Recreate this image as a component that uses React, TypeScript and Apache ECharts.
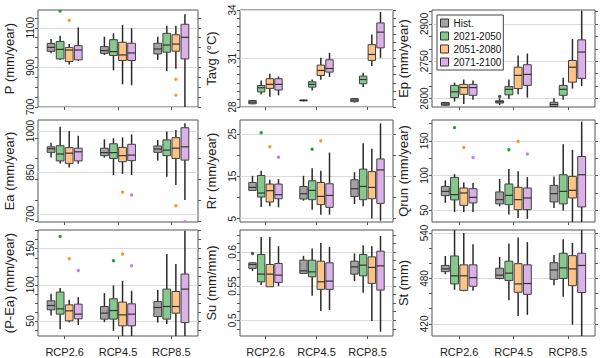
import { useEffect, useRef } from 'react';
import * as echarts from 'echarts';

const groups = ['RCP2.6', 'RCP4.5', 'RCP8.5'];
const periods = ['Hist.', '2021-2050', '2051-2080', '2071-2100'];

// box stats: [period][group] = [min, q1, median, q3, max]
const P_box = [
  [[971, 981, 1001, 1021, 1043], [963, 971, 985, 1005, 1055], [938, 968, 993, 1022, 1055]],
  [[938, 943, 991, 1031, 1060], [885, 960, 980, 1040, 1072], [882, 977, 1013, 1072, 1110]],
  [[915, 930, 988, 1001, 1018], [815, 935, 963, 1027, 1115], [893, 982, 1018, 1065, 1110]],
  [[933, 938, 988, 1010, 1102], [810, 935, 973, 1022, 1098], [690, 943, 1052, 1118, 1168]],
];
const P_out = [[1, 0, 1185], [2, 0, 1138], [2, 2, 840], [2, 2, 760]];
const P_ticks = [700, 900, 1100];

const Tavg_box = [
  [[28.17, 28.2, 28.3, 28.4, 28.43], [28.35, 28.38, 28.41, 28.43, 28.46], [28.28, 28.33, 28.43, 28.52, 28.56]],
  [[28.78, 28.93, 29.19, 29.33, 29.64], [29.02, 29.23, 29.4, 29.56, 29.7], [29.23, 29.44, 29.7, 29.91, 30.12]],
  [[28.64, 29.15, 29.4, 29.75, 30.06], [29.69, 29.95, 30.26, 30.59, 31.04], [30.53, 30.88, 31.25, 31.86, 32.48]],
  [[28.72, 29.05, 29.4, 29.75, 29.89], [29.85, 30.16, 30.38, 30.92, 31.35], [31.04, 31.66, 32.63, 33.2, 33.88]],
];
const Tavg_out: number[][] = [];
const Tavg_ticks = [28, 31, 34];

const Ep_box = [
  [[2570, 2573, 2578, 2584, 2587], [2574, 2582, 2587, 2591, 2601], [2566, 2568, 2576, 2585, 2601]],
  [[2588, 2604, 2627, 2653, 2664], [2598, 2615, 2637, 2648, 2677], [2595, 2613, 2637, 2653, 2684]],
  [[2578, 2617, 2644, 2657, 2677], [2617, 2640, 2693, 2726, 2773], [2640, 2666, 2726, 2753, 2839]],
  [[2595, 2613, 2644, 2657, 2673], [2604, 2653, 2697, 2736, 2781], [2650, 2681, 2787, 2836, 2953]],
];
const Ep_out = [[0, 1, 2608]];
const Ep_ticks = [2600, 2750, 2900];

const Ea_box = [
  [[904, 923, 936, 943, 958], [904, 911, 922, 938, 970], [893, 923, 935, 946, 968]],
  [[883, 892, 917, 947, 1016], [841, 901, 922, 954, 974], [835, 911, 931, 968, 998]],
  [[868, 883, 920, 940, 1000], [845, 889, 911, 941, 977], [805, 901, 938, 976, 1004]],
  [[882, 892, 925, 938, 983], [841, 893, 913, 952, 988], [751, 895, 943, 1012, 1028]],
];
const Ea_out = [[2, 1, 779], [3, 1, 769], [2, 2, 730], [3, 2, 672]];
const Ea_ticks = [700, 850, 1000];

const Rr_box = [
  [[11.6, 11.66, 12.37, 13.54, 15.12], [9.24, 9.63, 10.88, 12.6, 15.12], [8.46, 10.25, 12.06, 14.18, 15.98]],
  [[7.75, 10.1, 11.04, 15.2, 16.3], [7.1, 9.47, 11.66, 13.94, 16.9], [7.9, 9.47, 12.6, 16.7, 22.8]],
  [[7.9, 8.93, 11.6, 13.16, 14.18], [5.94, 8.3, 10.25, 13.54, 16.3], [5.0, 9.7, 12.37, 16.1, 21.5]],
  [[7.66, 9.7, 10.65, 13.16, 14.34], [5.94, 7.66, 10.48, 13.23, 20.6], [4.5, 8.6, 16.5, 19.1, 27.5]],
];
const Rr_out = [[1, 0, 25.3], [2, 0, 22.0], [3, 0, 19.5], [1, 1, 21.4], [2, 1, 23.4]];
const Rr_ticks = [5, 15, 25];

const Qrun_box = [
  [[60.5, 71, 77.1, 84.3, 93], [55.6, 59.1, 65.2, 76.3, 95], [53.3, 61.9, 73.8, 85.8, 98.7]],
  [[47.5, 64.8, 72.4, 97.3, 102], [43.7, 58, 71.4, 87.8, 109.3], [49.4, 59.1, 77.1, 101.1, 145.2]],
  [[47.5, 57, 74.8, 82, 90.1], [38.9, 50.8, 65.2, 83, 106], [30, 67.6, 78.6, 98.7, 137]],
  [[47.5, 60.5, 68.5, 81, 89.2], [37.5, 50.8, 67.6, 82, 97.8], [30, 54.7, 101.1, 127.4, 177.7]],
];
const Qrun_out = [[1, 0, 169], [2, 0, 140.4], [3, 0, 126], [1, 1, 137], [2, 1, 149], [3, 1, 131]];
const Qrun_ticks = [50, 100, 150];

const PEa_box = [
  [[57.4, 65.3, 71.3, 77.8, 87.5], [48.2, 52.4, 60.7, 69.9, 88.5], [47.6, 56, 68.5, 76.8, 93]],
  [[38.5, 59.3, 66.7, 89.9, 95.4], [36.1, 52.4, 64.3, 80.6, 99.1], [45.8, 52.4, 69.9, 94, 142.6]],
  [[48.2, 50, 63.9, 72.2, 79.2], [26, 43.1, 58.3, 76, 105.6], [26, 60.7, 69.9, 90.7, 128.7]],
  [[44.4, 52.8, 59.3, 73.2, 82.9], [26, 43.1, 59.3, 73.6, 91.7], [26, 47.6, 94, 114.9, 175]],
];
const PEa_out = [[1, 0, 167], [2, 0, 136.1], [3, 0, 119.9], [1, 1, 133.3], [2, 1, 142.6], [3, 1, 126.4]];
const PEa_ticks = [50, 100, 150];

const Su_box = [
  [[0.5719, 0.5758, 0.5816, 0.584, 0.5845], [0.5685, 0.5685, 0.5723, 0.5879, 0.5942], [0.5573, 0.5675, 0.5781, 0.5864, 0.5977]],
  [[0.5514, 0.5563, 0.5675, 0.5962, 0.6219], [0.5358, 0.5636, 0.5708, 0.5879, 0.605], [0.5402, 0.565, 0.5806, 0.5962, 0.6098]],
  [[0.549, 0.549, 0.5675, 0.5816, 0.6219], [0.5135, 0.5452, 0.5563, 0.5864, 0.6131], [0.499, 0.5539, 0.5773, 0.5927, 0.6083]],
  [[0.55, 0.5553, 0.566, 0.5831, 0.6083], [0.515, 0.5452, 0.5573, 0.584, 0.6073], [0.4833, 0.5442, 0.5796, 0.601, 0.6233]],
];
const Su_out = [[0, 0, 0.5977]];
const Su_ticks = [0.5, 0.55, 0.6];

const St_box = [
  [[485.7, 489, 492.6, 497.2, 509.7], [478.8, 480, 484.3, 493.5, 508.3], [471, 478.8, 491.2, 500.8, 511]],
  [[465, 472.8, 483.5, 509.7, 546], [451.2, 477.4, 487, 502.8, 526.2], [455.9, 480, 494, 513.3, 531.7]],
  [[463, 464.2, 483.5, 498, 540], [430.5, 461.8, 472.8, 499.5, 534], [419, 470.5, 492.6, 510.1, 527]],
  [[463.6, 469.7, 481.1, 498, 525.2], [432, 459, 473.3, 498, 528], [400, 461.4, 497.2, 513.3, 546]],
];
const St_out: number[][] = [];
const St_ticks = [420, 480, 540];

const panels = [
  { name: 'P (mm/year)', box: P_box, out: P_out, ticks: P_ticks, min: 700, max: 1190, minor: 50 },
  { name: 'Tavg (°C)', box: Tavg_box, out: Tavg_out, ticks: Tavg_ticks, min: 28, max: 34, minor: 0.5 },
  { name: 'Ep (mm/year)', box: Ep_box, out: Ep_out, ticks: Ep_ticks, min: 2566, max: 2956, minor: 50 },
  { name: 'Ea (mm/year)', box: Ea_box, out: Ea_out, ticks: Ea_ticks, min: 671, max: 1040, minor: 75 },
  { name: 'Rr (mm/year)', box: Rr_box, out: Rr_out, ticks: Rr_ticks, min: 4.2, max: 28.3, minor: 5 },
  { name: 'Qrun (mm/year)', box: Qrun_box, out: Qrun_out, ticks: Qrun_ticks, min: 33, max: 180, minor: 25 },
  { name: '(P-Ea) (mm/year)', box: PEa_box, out: PEa_out, ticks: PEa_ticks, min: 29, max: 176, minor: 12.5 },
  { name: 'Su (mm/mm)', box: Su_box, out: Su_out, ticks: Su_ticks, min: 0.477, max: 0.632, minor: 0.0125 },
  { name: 'St (mm)', box: St_box, out: St_out, ticks: St_ticks, min: 404, max: 544, minor: 20 },
];

const fills = ['#a3a3a3', '#86c98c', '#fdc387', '#dcb0e8'];
const outColors = ['#555555', '#2f9a3c', '#fb9a30', '#c684d9'];
const cols = [{ left: 38, width: 160 }, { left: 240, width: 153 }, { left: 432, width: 163 }];
const rows = [{ top: 10, height: 97 }, { top: 120, height: 102 }, { top: 230, height: 106 }];
const FONT = '"Liberation Sans", Arial, Helvetica, sans-serif';
const SPACE = 0.17;
const BOXW = 0.145;

function minorValues(min: number, max: number, step: number) {
  const vals: number[] = [];
  let k = Math.ceil(min / step - 1e-9);
  while (k * step <= max + 1e-9) {
    vals.push(Math.round(k * step * 1e6) / 1e6);
    k++;
  }
  return vals;
}

function makeRender(pi: number, box: number[][][], outs: number[][]) {
  return (params: any, api: any) => {
    const g = params.dataIndex;
    const d = box[pi][g];
    const band = api.size([1, 0])[0];
    const cx = api.coord([g, d[2]])[0] + (pi - 1.5) * band * SPACE;
    const hw = (band * BOXW) / 2;
    const y = d.map((v) => api.coord([g, v])[1]);
    const wStyle = { stroke: '#2a2a2a', lineWidth: 1.5 };
    const children: any[] = [
      { type: 'line', shape: { x1: cx, y1: y[4], x2: cx, y2: y[3] }, style: wStyle },
      { type: 'line', shape: { x1: cx, y1: y[1], x2: cx, y2: y[0] }, style: wStyle },
      {
        type: 'rect',
        shape: { x: cx - hw, y: y[3], width: hw * 2, height: y[1] - y[3] },
        style: { fill: fills[pi], stroke: '#404040', lineWidth: 1 },
      },
      { type: 'line', shape: { x1: cx - hw, y1: y[2], x2: cx + hw, y2: y[2] }, style: { stroke: '#333', lineWidth: 1.2 } },
    ];
    outs
      .filter((o) => o[0] === pi && o[1] === g)
      .forEach((o) => {
        const p = api.coord([g, o[2]]);
        children.push({ type: 'circle', shape: { cx, cy: p[1], r: 1.7 }, style: { fill: outColors[pi] } });
      });
    return { type: 'group', children };
  };
}

export default function App() {
  const ref = useRef<HTMLDivElement>(null);
  useEffect(() => {
    if (!ref.current) return;
    const chart = echarts.init(ref.current, undefined, { renderer: 'svg' });
    const grid: any[] = [];
    const xAxis: any[] = [];
    const yAxis: any[] = [];
    const series: any[] = [];
    panels.forEach((p, i) => {
      const r = Math.floor(i / 3);
      const c = i % 3;
      grid.push({
        left: cols[c].left, width: cols[c].width, top: rows[r].top, height: rows[r].height,
        show: true, borderColor: '#555', borderWidth: 1, backgroundColor: '#fff',
        containLabel: false, outerBoundsMode: 'none',
      });
      xAxis.push({
        gridIndex: i, type: 'category', data: groups, boundaryGap: true,
        axisLine: { show: false },
        axisTick: { show: true, alignWithLabel: true, length: 3, lineStyle: { color: '#555' } },
        axisLabel: { show: r === 2, fontSize: 11, margin: 10, color: '#222', fontFamily: FONT },
        splitLine: { show: false },
      });
      const minor = minorValues(p.min, p.max, p.minor);
      yAxis.push({
        gridIndex: i, type: 'value', min: p.min, max: p.max, position: 'left',
        name: p.name, nameLocation: 'middle', nameGap: 22,
        nameTextStyle: { fontSize: 13, color: '#222', fontFamily: FONT },
        axisLine: { show: false },
        axisTick: { show: true, length: 3, customValues: minor, lineStyle: { color: '#555' } },
        axisLabel: {
          customValues: p.ticks, rotate: 90, fontSize: 10, margin: 3, color: '#222', fontFamily: FONT,
          formatter: (v: number) => String(v),
        },
        splitLine: { show: false },
      });
      yAxis.push({
        gridIndex: i, type: 'value', min: p.min, max: p.max, position: 'right',
        axisLine: { show: false },
        axisTick: { show: true, length: 3, customValues: minor, lineStyle: { color: '#555' } },
        axisLabel: { show: false },
        splitLine: { show: false },
      });
      yAxis.push({
        gridIndex: i, type: 'value', min: p.min, max: p.max, position: 'left',
        axisLine: { show: false },
        axisTick: { show: false, customValues: p.ticks },
        axisLabel: { show: false, customValues: p.ticks },
        splitLine: { show: true, lineStyle: { color: '#dadada', width: 1.2 } },
      });
      periods.forEach((name, pi) => {
        series.push({
          type: 'custom', name, xAxisIndex: i, yAxisIndex: i * 3, clip: true,
          itemStyle: { color: fills[pi] },
          data: p.box[pi].map((d, g) => [g, ...d]),
          encode: { x: 0, y: [1, 2, 3, 4, 5] },
          renderItem: makeRender(pi, p.box, p.out),
          z: 3,
        });
      });
    });
    chart.setOption({
      animation: false,
      backgroundColor: '#fff',
      grid, xAxis, yAxis, series,
      legend: {
        data: periods.map((n) => ({ name: n, icon: 'rect' })),
        orient: 'vertical', left: 437, top: 15,
        itemWidth: 8, itemHeight: 8, itemGap: 3,
        padding: [3, 2, 3, 3],
        borderColor: '#444', borderWidth: 1, backgroundColor: '#fff',
        textStyle: { fontSize: 10, color: '#111', fontFamily: FONT },
        itemStyle: { borderColor: '#333', borderWidth: 1 },
        selectedMode: false, z: 10,
      },
    });
    return () => chart.dispose();
  }, []);
  return <div ref={ref} style={{ position: 'fixed', left: 0, top: 0, width: 600, height: 358 }} />;
}
